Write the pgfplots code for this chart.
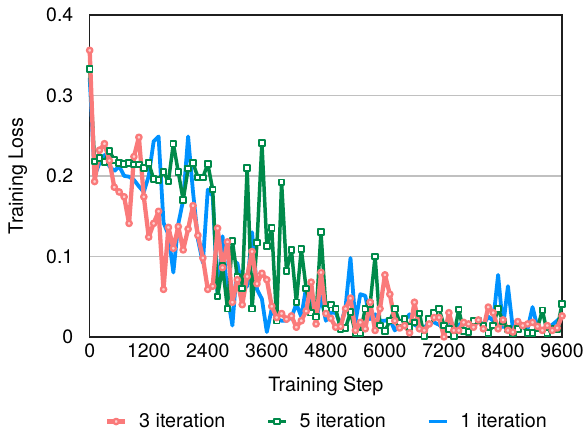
\documentclass[border=0pt]{standalone}
\usepackage{fontspec}
\setmainfont{TeX Gyre Heros}
\usepackage{pgfplots}
\pgfplotsset{compat=1.18}
\usepackage{pgfplotstable}

\definecolor{redc}{RGB}{250,122,122}
\definecolor{greenc}{RGB}{0,138,74}
\definecolor{bluec}{RGB}{0,146,255}
\definecolor{gridc}{RGB}{192,192,192}

\pgfplotstableread{
step three five one
0 0.356 0.333 0.322
100 0.193 0.218 0.200
200 0.232 0.222 0.216
300 0.240 0.217 0.226
400 0.219 0.231 0.212
500 0.186 0.220 0.206
600 0.180 0.216 0.212
700 0.174 0.215 0.200
800 0.141 0.216 0.199
900 0.224 0.214 0.195
1000 0.248 0.214 0.187
1100 0.174 0.210 0.180
1200 0.124 0.216 0.200
1300 0.141 0.196 0.243
1400 0.156 0.195 0.249
1500 0.059 0.205 0.142
1600 0.136 0.193 0.127
1700 0.110 0.240 0.080
1800 0.137 0.205 0.140
1900 0.108 0.170 0.170
2000 0.134 0.209 0.249
2100 0.163 0.216 0.180
2200 0.126 0.198 0.121
2300 0.098 0.198 0.092
2400 0.059 0.215 0.183
2500 0.063 0.183 0.175
2600 0.135 0.050 0.051
2700 0.086 0.088 0.125
2800 0.118 0.035 0.051
2900 0.043 0.119 0.014
3000 0.071 0.075 0.092
3100 0.040 0.060 0.059
3200 0.075 0.210 0.063
3300 0.106 0.035 0.130
3400 0.066 0.117 0.059
3500 0.079 0.241 0.047
3600 0.071 0.113 0.006
3700 0.038 0.135 0.035
3800 0.024 0.020 0.022
3900 0.029 0.192 0.020
4000 0.022 0.082 0.020
4100 0.026 0.108 0.024
4200 0.012 0.043 0.041
4300 0.020 0.109 0.025
4400 0.032 0.060 0.062
4500 0.068 0.030 0.040
4600 0.016 0.025 0.020
4700 0.080 0.130 0.050
4800 0.029 0.035 0.020
4900 0.023 0.040 0.030
5000 0.012 0.035 0.030
5100 0.013 0.009 0.014
5200 0.035 0.011 0.037
5300 0.048 0.031 0.098
5400 0.008 0.005 0.018
5500 0.018 0.005 0.053
5600 0.010 0.035 0.051
5700 0.043 0.041 0.022
5800 0.008 0.100 0.028
5900 0.035 0.014 0.020
6000 0.077 0.007 0.020
6100 0.053 0.020 0.022
6200 0.020 0.035 0.008
6300 0.011 0.018 0.015
6400 0.014 0.022 0.020
6500 0.005 0.012 0.028
6600 0.043 0.018 0.015
6700 0.010 0.029 0.012
6800 0.008 0.001 0.010
6900 0.016 0.022 0.020
7000 0.024 0.030 0.018
7100 0.024 0.035 0.015
7200 0.000 0.014 0.010
7300 0.030 0.010 0.020
7400 0.008 0.001 0.012
7500 0.008 0.034 0.015
7600 0.018 0.007 0.018
7700 0.016 0.006 0.015
7800 0.012 0.020 0.012
7900 0.021 0.020 0.020
8000 0.010 0.014 0.015
8100 0.037 0.005 0.025
8200 0.030 0.014 0.020
8300 0.010 0.035 0.077
8400 0.021 0.019 0.012
8500 0.008 0.010 0.063
8600 0.006 0.004 0.010
8700 0.019 0.010 0.015
8800 0.014 0.014 0.012
8900 0.016 0.005 0.010
9000 0.018 0.005 0.037
9100 0.013 0.011 0.012
9200 0.008 0.033 0.008
9300 0.014 0.005 0.010
9400 0.008 0.010 0.015
9500 0.011 0.010 0.020
9600 0.026 0.041 0.026
}\losstable

\begin{document}
\begin{tikzpicture}
\begin{axis}[
  name=ax,
  scale only axis,
  width=474pt, height=323pt,
  xmin=0, xmax=9600, ymin=0, ymax=0.4,
  xtick={0,1200,2400,3600,4800,6000,7200,8400,9600},
  ytick={0,0.1,0.2,0.3,0.4},
  scaled x ticks=false, scaled y ticks=false,
  /pgf/number format/1000 sep={},
  /pgf/number format/assume math mode=true,
  major tick length=0pt,
  ymajorgrids,
  grid style={gridc, line width=1.3pt},
  axis line style={black!88, line width=1.5pt},
  tick label style={font=\fontsize{19.5}{22}\selectfont},
  label style={font=\fontsize{19.8}{23}\selectfont},
  yticklabel style={xshift=-13pt},
  xticklabel style={yshift=-3pt},
  xlabel={Training Step},
  ylabel={Training Loss},
  xlabel style={at={(axis description cs:0.5,-0.155)}, anchor=center},
  ylabel style={at={(axis description cs:-0.152,0.5)}, anchor=center},
  clip=false,
  legend columns=3,
  reverse legend,
  legend image code/.code={%
    \draw[mark repeat=2,mark phase=2] plot coordinates {(0pt,0pt) (9pt,0pt) (18pt,0pt)};},
  legend style={at={(0.5,-0.263)}, anchor=center, draw=none, fill=none,
    inner sep=0pt,
    nodes={inner xsep=0pt},
    font=\fontsize{19.8}{23}\selectfont,
    /tikz/every odd column/.append style={column sep=12pt},
    /tikz/every even column/.append style={column sep=41pt}},
]
\addplot[bluec, line width=3.8pt, line join=round, no markers] table[x=step,y=one]{\losstable};
\addlegendentry{1 iteration}
\addplot[greenc, line width=3.5pt, line join=round, mark=square*,
  mark size=2.8pt, mark options={fill=white, draw=greenc, line width=1.9pt}] table[x=step,y=five]{\losstable};
\addlegendentry{5 iteration}
\addplot[redc, line width=4.3pt, line join=round, mark=*,
  mark size=2.7pt, mark options={fill=white!65!redc, draw=redc, line width=2.3pt}] table[x=step,y=three]{\losstable};
\addlegendentry{3 iteration}
\end{axis}
\path ([shift={(-90pt,-96pt)}]ax.south west) rectangle ([shift={(23pt,15pt)}]ax.north east);
\end{tikzpicture}
\end{document}
